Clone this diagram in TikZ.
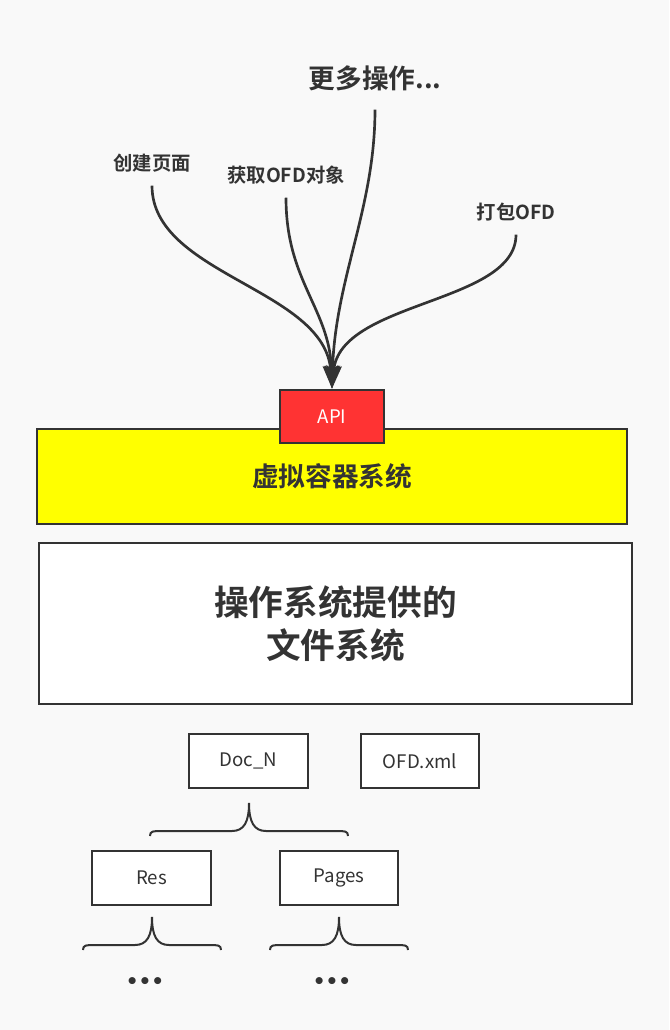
\documentclass[tikz,border=0pt]{standalone}
\usepackage{fontspec}
\setmainfont{Noto Sans CJK SC}[BoldFont={Noto Sans CJK SC Bold}]
\newfontfamily\dotfont{DejaVu Sans}
\usetikzlibrary{arrows.meta}
\definecolor{ink}{HTML}{333333}
\definecolor{paper}{HTML}{F9F9F9}
\definecolor{apired}{HTML}{FF3333}
\definecolor{vyellow}{HTML}{FFFF00}
\tikzset{
  layer/.style={draw=ink,line width=2.2pt,inner sep=0pt,font=\bfseries,text=ink,align=center},
  file/.style={draw=ink,line width=1.5pt,fill=white,minimum width=89pt,minimum height=40.5pt,inner sep=0pt,font=\fontsize{14}{16}\selectfont,text=ink},
  op/.style={font=\bfseries\fontsize{14.5}{17}\selectfont,text=ink,inner sep=2pt},
  call/.style={-{Stealth[length=17pt,width=11.5pt,inset=3pt]},draw=ink,line width=2pt},
  fold/.style={draw=ink,line width=1.5pt},
  more/.style={font=\dotfont\bfseries\fontsize{15}{18}\selectfont,text=ink,inner sep=1pt},
}

\begin{document}
\begin{tikzpicture}[x=0.75pt,y=-0.75pt]
  \fill[paper] (0,0) rectangle (669,1030);
  \useasboundingbox (0,0) rectangle (669,1030);
  % operations calling the api
  \node[op,font=\bfseries\fontsize{20}{24}\selectfont] (more) at (375,78) {更多操作...};
  \node[op] (create) at (152,163) {创建页面};
  \node[op] (fetch) at (286,175) {获取OFD对象};
  \node[op] (pack) at (516,212) {打包OFD};
  % layers
  \node[layer,fill=vyellow,minimum width=442.5pt,minimum height=71.25pt,font=\bfseries\fontsize{20}{24}\selectfont] (vc) at (332,476.5) {\raisebox{-7pt}{虚拟容器系统}};
  \node[layer,fill=apired,text=white,font=\fontsize{14}{16}\selectfont,minimum width=78pt,minimum height=39.75pt] (api) at (332,416.5) {API};
  \node[layer,fill=white,minimum width=444.75pt,minimum height=120.75pt,font=\bfseries\fontsize{26}{32.5}\selectfont] (osfs) at (335.5,623.5) {\raisebox{-3pt}{操作系统提供的}\\\raisebox{-3pt}{文件系统}};
  \draw[call,shorten <=8pt] (create.south) .. controls +(0,100) and +(-7,-100) .. (api.north);
  \draw[call,shorten <=8pt] (fetch.south) .. controls +(0,95) and +(-2,-80) .. (api.north);
  \draw[call,shorten <=12pt] (more.south) .. controls +(0,115) and +(3,-110) .. (api.north);
  \draw[call,shorten <=8pt] (pack.south) .. controls +(0,80) and +(8,-88) .. (api.north);
  % package tree
  \node[file] (doc) at (248.5,761) {Doc\_N};
  \node[file] (ofdxml) at (420,761) {OFD.xml};
  \node[file] (res) at (151.5,878) {Res};
  \node[file] (pages) at (339,878) {Pages};
  \foreach \l/\m/\r/\t in {150/249/348/803, 83/152/221/917, 270/339/408/917}
    \draw[fold] (\l,\t+33) .. controls (\l,\t+28) and (\l+3,\t+28) .. (\l+12,\t+28)
      -- (\m-17,\t+28) .. controls (\m-5,\t+28) and (\m,\t+19) .. (\m,\t)
      .. controls (\m,\t+19) and (\m+5,\t+28) .. (\m+17,\t+28)
      -- (\r-12,\t+28) .. controls (\r-3,\t+28) and (\r,\t+28) .. (\r,\t+33);
  \node[more] (resmore) at (145,983) {•••};
  \node[more] (pagesmore) at (332,983) {•••};
\end{tikzpicture}
\end{document}
